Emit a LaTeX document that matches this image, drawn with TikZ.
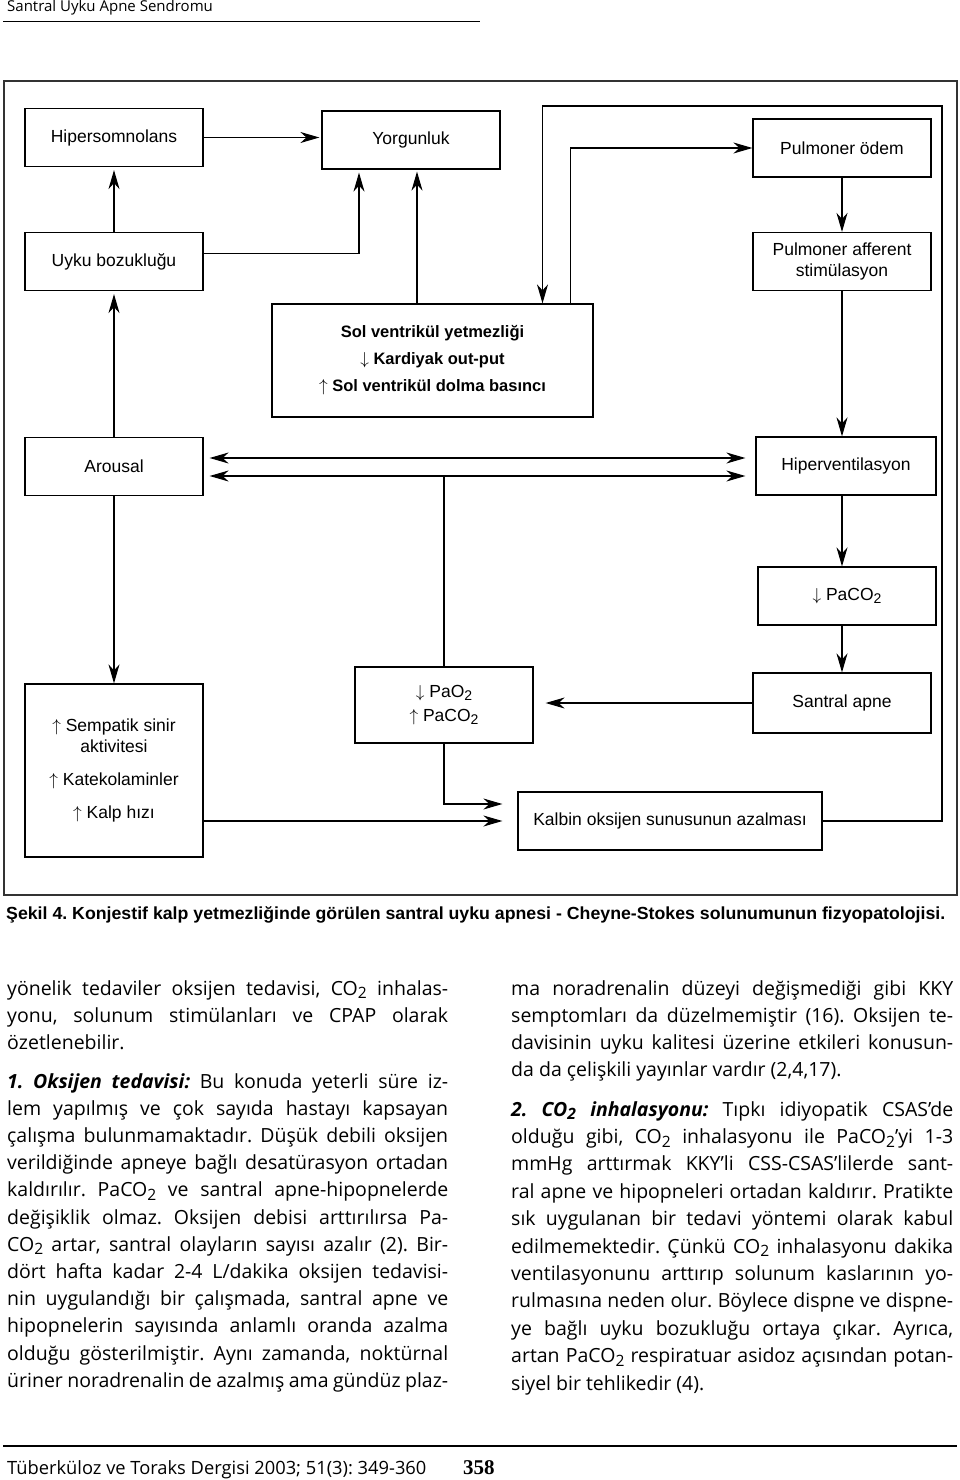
\documentclass[tikz,border=0pt]{standalone}
\usepackage{graphicx}
\usepackage{fontspec}
\setmainfont{Open Sans}
\newfontfamily\diagfont{Liberation Sans}
\newfontfamily\numfont{Liberation Serif}
\usetikzlibrary{
    arrows.meta,
    positioning
}
\newcommand{\lowtwo}{\raisebox{-0.35ex}{\scalebox{0.8}{2}}}
\frenchspacing

\tikzset{
    box/.style={draw, line width=1.2pt, minimum width=178pt, minimum height=58pt,
        inner sep=2pt, align=center, font=\diagfont\fontsize{17.5}{21}\selectfont},
    arr/.style={-{Stealth[length=19pt,width=11pt,inset=6pt]}, line width=1.1pt},
    dbl/.style={{Stealth[length=19pt,width=11pt,inset=6pt]}-{Stealth[length=19pt,width=11pt,inset=6pt]}, line width=1.1pt},
    bodyline/.style={anchor=base west, inner sep=0pt, font=\fontsize{19.5}{23}\selectfont}
}

\begin{document}
\begin{tikzpicture}[x=1pt, y=-1pt]
    \useasboundingbox (0,0) rectangle (960,1480);

    % running head
    \node[anchor=base west, inner sep=0pt, font=\fontsize{15}{17}\selectfont] (runhead) at (7,12) {Santral Uyku Apne Sendromu};
    \draw[line width=1.2pt] (3,21.5) -- (480,21.5);

    % figure frame
    \draw[line width=1.3pt, black!80] (4,81) rectangle (957,895);

    % boxes
    \node[box] (hyp) at (114,137.5) {Hipersomnolans};
    \node[box] (yor) at (411,140) {Yorgunluk};
    \node[box] (pod) at (842,148) {Pulmoner ödem};
    \node[box] (uyku) at (114,261.5) {Uyku bozukluğu};
    \node[box] (paf) at (842,261.5) {Pulmoner afferent\\stimülasyon};
    \node[box, minimum width=321pt, minimum height=113pt,
        font=\diagfont\bfseries\fontsize{16.5}{27}\selectfont] (solv) at (432.5,360.5)
        {Sol ventrikül yetmezliği\\$\downarrow$ Kardiyak out-put\\$\uparrow$ Sol ventrikül dolma basıncı};
    \node[box] (aro) at (114,466.5) {Arousal};
    \node[box, minimum width=180pt] (hipv) at (846,466) {Hiperventilasyon};
    \node[box] (paco) at (847,596) {$\downarrow$ PaCO\lowtwo};
    \node[box, minimum height=60pt] (sant) at (842,703) {Santral apne};
    \node[box, minimum height=76pt, font=\diagfont\fontsize{17.5}{24}\selectfont] (pao) at (444,705)
        {$\downarrow$ PaO\lowtwo\\$\uparrow$ PaCO\lowtwo};
    \node[box, minimum height=173pt] (semp) at (114,770.5)
        {$\uparrow$ Sempatik sinir\\aktivitesi\\[12pt]$\uparrow$ Katekolaminler\\[12pt]$\uparrow$ Kalp hızı};
    \node[box, minimum width=304pt] (kalb) at (670,821) {Kalbin oksijen sunusunun azalması};

    % connectors
    \coordinate (loopne) at (942,106);
    \draw[arr, shorten >=2pt] (hyp.east) -- (hyp.east -| yor.west);
    \draw[arr, shorten >=3pt] ([yshift=8pt]uyku.east) -| ([xshift=-52pt]yor.south);
    \draw[arr, shorten >=3pt] (uyku.north) -- (hyp.south);
    \draw[arr, shorten >=2pt] ([xshift=6pt]yor.south |- solv.north) -- ([xshift=6pt]yor.south);
    \draw[arr] (kalb.east) -| (loopne) -| ([xshift=110pt]solv.north);
    \draw[arr] ([xshift=138pt]solv.north) |- (pod.west);
    \draw[arr] (pod.south) -- (paf.north);
    \draw[arr, shorten >=3pt] (aro.north) -- (uyku.south);
    \draw[arr] (paf.south) -- (paf.south |- hipv.north);
    \draw[dbl, shorten <=6pt, shorten >=10pt] ([yshift=8.5pt]aro.east) -- ([yshift=8.5pt]aro.east -| hipv.west);
    \draw[dbl, shorten <=6pt, shorten >=10pt] ([yshift=-9.5pt]aro.east) -- ([yshift=-9.5pt]aro.east -| hipv.west);
    \coordinate (lowmid) at ([yshift=-9.5pt]aro.east -| pao.north);
    \draw[line width=1.1pt] (pao.north) -- (lowmid);
    \draw[arr] (paf.south |- hipv.south) -- (paf.south |- paco.north);
    \draw[arr] (paf.south |- paco.south) -- (sant.north);
    \draw[arr, shorten >=12pt] (sant.west) -- (sant.west -| pao.east);
    \draw[arr, shorten >=15pt] (pao.south) |- ([yshift=17pt]kalb.west);
    \draw[arr, shorten >=15pt] (kalb.west -| semp.east) -- (kalb.west);
    \draw[arr] (aro.south) -- (semp.north);

    % caption
    \node[anchor=base west, inner sep=0pt] (caption) at (6,919)
        {\resizebox{939pt}{\height}{\diagfont\bfseries\fontsize{17.5}{20}\selectfont Şekil 4. Konjestif kalp yetmezliğinde görülen santral uyku apnesi - Cheyne-Stokes solunumunun fizyopatolojisi.}};

    % left column
    \foreach \linetext [count=\k from 0] in {
        {yönelik tedaviler oksijen tedavisi, CO\lowtwo{} inhalas-},
        {yonu, solunum stimülanları ve CPAP olarak}}
        \node[bodyline] (lpa\k) at (7,{995+27.2*\k}) {\makebox[441pt][s]{\linetext}};
    \node[bodyline] (lpaend) at (7,1049.4) {özetlenebilir.};
    \foreach \linetext [count=\k from 0] in {
        {\textbf{\textit{1. Oksijen tedavisi:}} Bu konuda yeterli süre iz-},
        {lem yapılmış ve çok sayıda hastayı kapsayan},
        {çalışma bulunmamaktadır. Düşük debili oksijen},
        {verildiğinde apneye bağlı desatürasyon ortadan},
        {kaldırılır. PaCO\lowtwo{} ve santral apne-hipopnelerde},
        {değişiklik olmaz. Oksijen debisi arttırılırsa Pa-},
        {CO\lowtwo{} artar, santral olayların sayısı azalır (2). Bir-},
        {dört hafta kadar 2-4 L/dakika oksijen tedavisi-},
        {nin uygulandığı bir çalışmada, santral apne ve},
        {hipopnelerin sayısında anlamlı oranda azalma},
        {olduğu gösterilmiştir. Aynı zamanda, noktürnal},
        {üriner noradrenalin de azalmış ama gündüz plaz-}}
        \node[bodyline] (lpb\k) at (7,{1088+27.2*\k}) {\makebox[441pt][s]{\linetext}};

    % right column
    \foreach \linetext [count=\k from 0] in {
        {ma noradrenalin düzeyi değişmediği gibi KKY},
        {semptomları da düzelmemiştir (16). Oksijen te-},
        {davisinin uyku kalitesi üzerine etkileri konusun-}}
        \node[bodyline] (rpa\k) at (511,{995+27.3*\k}) {\makebox[442pt][s]{\linetext}};
    \node[bodyline] (rpaend) at (511,1076.9) {da da çelişkili yayınlar vardır (2,4,17).};
    \foreach \linetext [count=\k from 0] in {
        {\textbf{\textit{2. CO\lowtwo{} inhalasyonu:}} Tıpkı idiyopatik CSAS’de},
        {olduğu gibi, CO\lowtwo{} inhalasyonu ile PaCO\lowtwo’yi 1-3},
        {mmHg arttırmak KKY’li CSS-CSAS’lilerde sant-},
        {ral apne ve hipopneleri ortadan kaldırır. Pratikte},
        {sık uygulanan bir tedavi yöntemi olarak kabul},
        {edilmemektedir. Çünkü CO\lowtwo{} inhalasyonu dakika},
        {ventilasyonunu arttırıp solunum kaslarının yo-},
        {rulmasına neden olur. Böylece dispne ve dispne-},
        {ye bağlı uyku bozukluğu ortaya çıkar. Ayrıca,},
        {artan PaCO\lowtwo{} respiratuar asidoz açısından potan-}}
        \node[bodyline] (rpb\k) at (511,{1116+27.4*\k}) {\makebox[442pt][s]{\linetext}};
    \node[bodyline] (rpbend) at (511,1390) {siyel bir tehlikedir (4).};

    % footer
    \draw[line width=1.2pt] (3,1446) -- (957,1446);
    \node[anchor=base west, inner sep=0pt, font=\fontsize{18.3}{20}\selectfont] (foot) at (7,1474)
        {Tüberküloz ve Toraks Dergisi 2003; 51(3): 349-360};
    \node[anchor=base west, inner sep=0pt, font=\numfont\bfseries\fontsize{21}{23}\selectfont] (pagenum) at (463,1474) {358};
\end{tikzpicture}
\end{document}
